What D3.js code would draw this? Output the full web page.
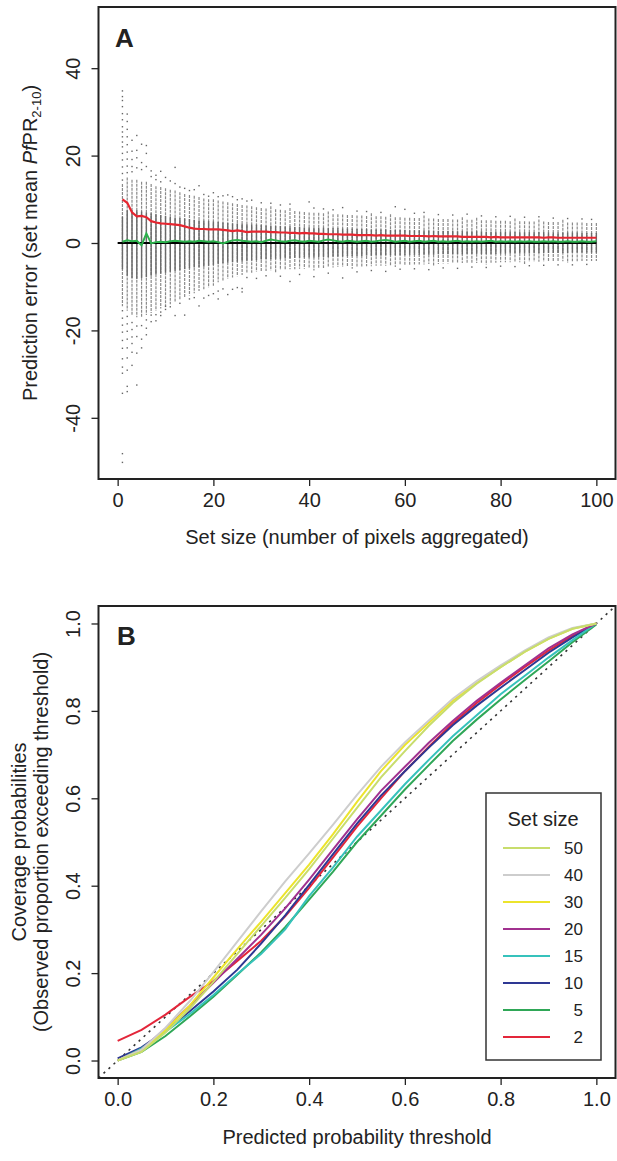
<!DOCTYPE html>
<html>
<head>
<meta charset="utf-8">
<script src="https://cdn.jsdelivr.net/npm/d3@7"></script>
<style>
  body { margin: 0; background: #fff; }
  text { font-family: "Liberation Sans", Arial, sans-serif; fill: #222; }
</style>
</head>
<body>
<div id="chart-area"></div>
<script>
//============================DATA============================
// Panel A: prediction error by set size (one boxplot per set size 1..100)
var setSizes = d3.range(1, 101);

var whiskerUpper = [
  13.5, 15.0, 14.5, 14.5, 14.0, 14.0, 13.5, 13.0, 12.8, 12.5,
  12.2, 12.0, 11.6, 11.2, 11.0, 10.8, 10.5, 10.2, 10.0, 10.0,
  9.7, 9.5, 9.3, 9.1, 8.9, 8.7, 8.6, 8.4, 8.2, 8.0,
  7.9, 8.4, 7.7, 7.6, 7.5, 8.0, 7.3, 7.2, 7.1, 7.0,
  6.9, 6.9, 6.8, 7.2, 6.6, 6.6, 6.5, 6.4, 6.4, 6.3,
  6.3, 6.2, 6.8, 6.1, 6.1, 6.0, 6.6, 5.9, 5.9, 5.8,
  5.8, 5.7, 5.7, 6.3, 5.6, 5.6, 5.5, 5.5, 5.5, 5.4,
  5.4, 5.9, 5.3, 5.3, 5.8, 5.2, 5.2, 5.2, 5.1, 5.1,
  5.1, 5.0, 5.6, 5.0, 5.0, 4.9, 4.9, 5.4, 4.9, 4.8,
  4.8, 4.8, 5.3, 4.7, 4.7, 4.7, 4.7, 4.6, 4.6, 4.6
];
var whiskerLower = [
  -14.5, -15.5, -16.5, -17.0, -17.0, -16.5, -16.0, -15.5, -15.0, -14.5,
  -14.0, -13.5, -13.0, -12.5, -12.0, -11.5, -11.0, -10.6, -10.2, -9.8,
  -9.0, -8.6, -8.2, -7.9, -7.6, -7.3, -7.0, -6.8, -6.6, -6.5,
  -6.4, -6.3, -6.8, -6.2, -6.1, -6.0, -6.0, -5.9, -5.9, -5.8,
  -6.3, -5.7, -5.7, -5.6, -5.6, -5.5, -5.5, -5.4, -5.9, -5.4,
  -5.4, -5.3, -5.3, -5.2, -5.2, -5.2, -5.1, -5.5, -5.0, -5.0,
  -5.0, -4.9, -4.9, -4.9, -4.8, -5.3, -4.8, -4.7, -4.7, -4.7,
  -4.7, -4.6, -4.6, -4.6, -4.6, -4.5, -5.0, -4.5, -4.5, -4.4,
  -4.4, -4.4, -4.4, -4.4, -4.8, -4.3, -4.3, -4.3, -4.3, -4.3,
  -4.2, -4.2, -4.2, -4.6, -4.2, -4.2, -4.1, -4.1, -4.1, -4.1
];
var quartileUpper = [
  6.0, 7.5, 7.5, 7.5, 7.2, 7.0, 6.8, 6.6, 6.4, 6.2,
  6.0, 5.8, 5.7, 5.6, 5.5, 5.3, 5.2, 5.1, 5.0, 4.9,
  4.8, 4.7, 4.6, 4.5, 4.5, 4.4, 4.3, 4.2, 4.2, 4.1,
  4.0, 4.0, 3.9, 3.9, 3.8, 3.8, 3.7, 3.7, 3.6, 3.6,
  3.5, 3.5, 3.5, 3.4, 3.4, 3.4, 3.3, 3.3, 3.3, 3.2,
  3.2, 3.2, 3.1, 3.1, 3.1, 3.1, 3.0, 3.0, 3.0, 3.0,
  2.9, 2.9, 2.9, 2.9, 2.9, 2.8, 2.8, 2.8, 2.8, 2.8,
  2.7, 2.7, 2.7, 2.7, 2.7, 2.7, 2.6, 2.6, 2.6, 2.6,
  2.6, 2.6, 2.5, 2.5, 2.5, 2.5, 2.5, 2.5, 2.5, 2.4,
  2.4, 2.4, 2.4, 2.4, 2.4, 2.4, 2.3, 2.3, 2.3, 2.3
];
var quartileLower = [
  -6.0, -7.5, -8.0, -8.2, -8.0, -7.8, -7.5, -7.2, -7.0, -6.8,
  -6.6, -6.4, -6.2, -6.0, -5.8, -5.6, -5.5, -5.4, -5.2, -5.0,
  -4.8, -4.6, -4.5, -4.4, -4.3, -4.2, -4.1, -4.0, -3.9, -3.8,
  -3.7, -3.7, -3.6, -3.6, -3.5, -3.5, -3.4, -3.4, -3.3, -3.3,
  -3.3, -3.2, -3.2, -3.2, -3.1, -3.1, -3.1, -3.0, -3.0, -3.0,
  -3.0, -2.9, -2.9, -2.9, -2.9, -2.8, -2.8, -2.8, -2.8, -2.8,
  -2.7, -2.7, -2.7, -2.7, -2.7, -2.7, -2.6, -2.6, -2.6, -2.6,
  -2.6, -2.6, -2.5, -2.5, -2.5, -2.5, -2.5, -2.5, -2.5, -2.4,
  -2.4, -2.4, -2.4, -2.4, -2.4, -2.4, -2.3, -2.3, -2.3, -2.3,
  -2.3, -2.3, -2.3, -2.3, -2.2, -2.2, -2.2, -2.2, -2.2, -2.2
];
// red line: mean absolute error; green line: mean error
var meanAbsError = [
  10.0, 9.2, 7.0, 6.1, 6.2, 5.9, 5.0, 4.7, 4.5, 4.4,
  4.3, 4.2, 4.1, 3.8, 3.5, 3.3, 3.2, 3.2, 3.1, 3.1,
  3.1, 3.0, 2.9, 2.7, 2.9, 2.7, 2.5, 2.6, 2.6, 2.6,
  2.6, 2.5, 2.5, 2.4, 2.4, 2.3, 2.3, 2.2, 2.3, 2.2,
  2.2, 2.1, 2.1, 2.0, 2.0, 2.0, 1.9, 1.9, 1.9, 1.8,
  1.8, 1.8, 1.8, 1.7, 1.8, 1.7, 1.7, 1.7, 1.7, 1.7,
  1.6, 1.6, 1.6, 1.6, 1.5, 1.6, 1.5, 1.5, 1.5, 1.5,
  1.5, 1.4, 1.4, 1.4, 1.4, 1.4, 1.4, 1.3, 1.4, 1.3,
  1.3, 1.3, 1.3, 1.3, 1.3, 1.3, 1.3, 1.3, 1.2, 1.3,
  1.3, 1.2, 1.2, 1.2, 1.2, 1.2, 1.2, 1.2, 1.2, 1.2
];
var meanError = [
  0.3, 0.6, 0.4, 0.5, -0.5, 2.2, -0.1, 0.2, 0.3, 0.2,
  0.4, 0.5, 0.4, 0.3, 0.4, 0.3, 0.5, 0.4, 0.3, 0.4,
  0.2, -0.1, 0.3, 0.6, 0.7, 0.5, 0.4, 0.3, 0.4, 0.2,
  0.5, 0.8, 0.6, 0.4, 0.3, 0.5, 0.6, 0.4, 0.3, 0.5,
  0.4, 0.3, 0.6, 0.8, 0.6, 0.4, 0.3, 0.5, 0.4, 0.3,
  0.4, 0.5, 0.3, 0.4, 0.6, 0.7, 0.5, 0.3, 0.4, 0.5,
  0.3, 0.4, 0.5, 0.3, 0.4, 0.5, 0.3, 0.4, 0.3, 0.4,
  0.5, 0.3, 0.4, 0.3, 0.4, 0.3, 0.4, 0.5, 0.3, 0.4,
  0.3, 0.4, 0.3, 0.4, 0.3, 0.4, 0.3, 0.3, 0.4, 0.3,
  0.4, 0.3, 0.3, 0.4, 0.3, 0.3, 0.4, 0.3, 0.3, 0.4
];
// outlying points: [set size, error]
var outliers = [
  [1,34.8],[1,33.5],[1,32.6],[1,31.2],[1,29.6],[1,28.2],[1,26.6],[1,25.4],[1,24.3],[1,23.1],
  [1,22.0],[1,20.5],[1,19.0],[1,17.4],[1,15.9],[1,14.4],[1,-15.5],[1,-17.2],[1,-18.8],[1,-20.4],
  [1,-22.3],[1,-24.1],[1,-26.5],[1,-28.4],[1,-29.8],[1,-34.4],[1,-48.2],[1,-50.2],
  [2,29.5],[2,27.8],[2,26.0],[2,24.3],[2,22.5],[2,20.8],[2,19.2],[2,17.6],[2,16.1],
  [2,-16.8],[2,-18.5],[2,-20.2],[2,-22.0],[2,-24.0],[2,-26.3],[2,-29.1],[2,-32.8],[2,-34.0],
  [3,23.5],[3,21.0],[3,19.1],[3,17.5],[3,16.3],[3,-18.2],[3,-19.8],[3,-21.5],[3,-23.0],[3,-25.0],[3,-28.0],
  [4,24.6],[4,21.2],[4,19.5],[4,17.2],[4,-19.0],[4,-21.4],[4,-25.2],[4,-32.5],
  [5,22.6],[5,18.4],[5,16.8],[5,-18.9],[5,-22.0],[5,-24.0],
  [6,22.3],[6,20.5],[6,17.5],[6,-17.6],[6,-19.5],[6,-21.0],
  [7,16.5],[7,15.2],[7,-16.5],[7,-18.0],[8,15.5],[8,14.5],[8,-16.4],[8,-17.8],
  [9,16.4],[9,14.0],[9,-15.8],[9,-16.6],[10,15.0],[10,-14.5],[10,-15.2],
  [11,14.2],[11,-14.6],[12,17.3],[12,13.6],[12,-16.6],[13,12.8],[13,-13.8],
  [14,12.5],[14,-16.5],[15,12.0],[15,-12.8],[16,12.2],[16,-12.5],[17,13.1],[17,-14.4],
  [18,11.1],[18,-12.6],[19,10.7],[19,-12.0],[20,11.5],[20,-11.6],[21,10.6],[21,-11.0],[21,-12.8],
  [22,10.8],[22,-10.5],[23,11.0],[23,-11.8],[24,10.6],[24,-10.6],[25,9.9],[25,-10.2],
  [26,10.1],[26,-10.4],[26,-11.2],[27,9.6],[27,-7.9],
  [28,9.8],[29,-8.1],[30,9.2],[31,-7.5],[32,9.1],[34,8.7],[34,-7.6],[36,8.9],[36,-8.8],
  [38,-7.2],[40,9.4],[41,8.0],[41,-7.7],[43,7.8],[44,-6.9],[45,7.6],[47,8.1],[47,-8.0],
  [50,7.3],[50,-6.6],[52,7.2],[53,-6.3],[55,7.0],[56,-6.5],[58,8.3],[59,-6.0],[60,7.7],
  [62,6.8],[62,-5.9],[64,7.0],[65,-6.1],[67,6.5],[68,-5.7],[70,6.4],[71,-5.8],[73,6.6],
  [74,-5.5],[76,6.2],[77,-5.6],[79,6.0],[80,-5.3],[82,6.1],[83,-5.4],[85,5.9],[86,-5.2],
  [88,6.0],[89,-5.1],[91,5.7],[92,-5.0],[94,5.6],[95,-5.0],[97,5.5],[98,-4.9],[99,5.4]
];
var tickValuesA_x = [0, 20, 40, 60, 80, 100];
var tickValuesA_y = [-40, -20, 0, 20, 40];

// Panel B: coverage probability vs predicted probability threshold
var thresholds = [0, 0.05, 0.1, 0.15, 0.2, 0.25, 0.3, 0.35, 0.4, 0.45, 0.5,
                  0.55, 0.6, 0.65, 0.7, 0.75, 0.8, 0.85, 0.9, 0.95, 1.0];
var cov2  = [0.045, 0.070, 0.105, 0.145, 0.182, 0.228, 0.274, 0.330, 0.395, 0.465, 0.535, 0.600, 0.662, 0.718, 0.772, 0.818, 0.860, 0.900, 0.938, 0.972, 1.000];
var cov5  = [0.000, 0.020, 0.056, 0.100, 0.146, 0.196, 0.248, 0.305, 0.368, 0.432, 0.500, 0.560, 0.620, 0.676, 0.731, 0.780, 0.826, 0.870, 0.913, 0.957, 0.998];
var cov10 = [0.005, 0.030, 0.068, 0.112, 0.158, 0.208, 0.268, 0.332, 0.402, 0.472, 0.542, 0.606, 0.662, 0.716, 0.767, 0.812, 0.853, 0.893, 0.933, 0.968, 1.000];
var cov15 = [0.000, 0.028, 0.066, 0.106, 0.150, 0.198, 0.244, 0.300, 0.376, 0.442, 0.512, 0.572, 0.632, 0.688, 0.742, 0.790, 0.838, 0.880, 0.922, 0.962, 1.000];
var cov20 = [0.000, 0.025, 0.073, 0.124, 0.178, 0.233, 0.288, 0.348, 0.414, 0.483, 0.552, 0.617, 0.672, 0.727, 0.777, 0.823, 0.864, 0.904, 0.943, 0.975, 1.000];
var cov30 = [0.000, 0.024, 0.070, 0.125, 0.190, 0.255, 0.318, 0.383, 0.448, 0.518, 0.592, 0.662, 0.722, 0.773, 0.823, 0.864, 0.900, 0.935, 0.965, 0.988, 1.000];
var cov40 = [0.000, 0.025, 0.075, 0.135, 0.202, 0.272, 0.342, 0.410, 0.474, 0.540, 0.608, 0.672, 0.728, 0.778, 0.828, 0.868, 0.904, 0.938, 0.968, 0.990, 1.000];
var cov50 = [0.000, 0.020, 0.064, 0.118, 0.180, 0.244, 0.308, 0.372, 0.438, 0.508, 0.578, 0.648, 0.708, 0.766, 0.818, 0.862, 0.900, 0.935, 0.965, 0.988, 1.000];

var legendLabels = ["50", "40", "30", "20", "15", "10", "5", "2"];
var legendColors = ["#c8dd6c", "#cdcdcd", "#ece42c", "#a1318f", "#36c2bc", "#2e3893", "#2fa757", "#e3263a"];
var tickValuesB = [0, 0.2, 0.4, 0.6, 0.8, 1.0];

//============================LAYOUT============================
var W = 617, H = 1161;
var plotLeft = 98.5, plotRight = 615.5;
var panelA = { top: 7, bottom: 479 };
var panelB = { top: 606, bottom: 1078 };

var svg = d3.select("#chart-area")
    .append("svg")
    .attr("width", W)
    .attr("height", H);

var xA = d3.scaleLinear().domain([-4, 104]).range([plotLeft, plotRight]);
var yA = d3.scaleLinear().domain([-54, 54]).range([panelA.bottom, panelA.top]);
var xB = d3.scaleLinear().domain([-0.04, 1.04]).range([plotLeft, plotRight]);
var yB = d3.scaleLinear().domain([-0.04, 1.04]).range([panelB.bottom, panelB.top]);

// plain hyphen minus, like R's labels
var fmtInt = function(d){ return String(d); };
var fmtDec = function(d){ return d.toFixed(1); };

// shared axis drawing (R style: outside ticks, y labels parallel to axis)
function drawAxes(g, x, y, xticks, yticks, fmt, bottom) {
    var xAxis = g.append("g")
        .attr("transform", "translate(0," + bottom + ")")
        .call(d3.axisBottom(x).tickValues(xticks).tickFormat(fmt).tickSize(7).tickPadding(7));
    xAxis.select(".domain").remove();
    xAxis.selectAll("line").attr("stroke", "#222").attr("stroke-width", 1.3);
    xAxis.selectAll("text").attr("font-size", "20px").attr("fill", "#222")
        .style("font-family", "'Liberation Sans', Arial, sans-serif");

    var yAxis = g.append("g")
        .attr("transform", "translate(" + plotLeft + ",0)")
        .call(d3.axisLeft(y).tickValues(yticks).tickFormat(fmt).tickSize(7));
    yAxis.select(".domain").remove();
    yAxis.selectAll("line").attr("stroke", "#222").attr("stroke-width", 1.3);
    yAxis.selectAll("text")
        .attr("x", 0).attr("y", -19).attr("dy", 0)
        .attr("transform", "rotate(-90)")
        .attr("text-anchor", "middle")
        .attr("font-size", "20px").attr("fill", "#222")
        .style("font-family", "'Liberation Sans', Arial, sans-serif");
}

function drawFrame(g, top, bottom) {
    g.append("rect")
        .attr("x", plotLeft).attr("y", top)
        .attr("width", plotRight - plotLeft).attr("height", bottom - top)
        .attr("fill", "none").attr("stroke", "#222").attr("stroke-width", 2);
}

//============================PANEL A============================
var gA = svg.append("g");
var boxData = setSizes.map(function(n, i){
    return { n: n, lo: whiskerLower[i], q1: quartileLower[i], q3: quartileUpper[i], hi: whiskerUpper[i] };
});

gA.selectAll(".whisker")
    .data(boxData).enter()
    .append("line")
    .attr("class", "whisker")
    .attr("x1", function(d){ return xA(d.n); })
    .attr("x2", function(d){ return xA(d.n); })
    .attr("y1", function(d){ return yA(d.hi); })
    .attr("y2", function(d){ return yA(d.lo); })
    .attr("stroke", "#8a8a8a")
    .attr("stroke-width", 1.2)
    .attr("stroke-dasharray", "3,1");

gA.selectAll(".box")
    .data(boxData).enter()
    .append("rect")
    .attr("class", "box")
    .attr("x", function(d){ return xA(d.n) - 0.7; })
    .attr("width", 1.4)
    .attr("y", function(d){ return yA(d.q3); })
    .attr("height", function(d){ return yA(d.q1) - yA(d.q3); })
    .attr("fill", "#6a6a6a");

gA.selectAll(".outlier")
    .data(outliers).enter()
    .append("rect")
    .attr("class", "outlier")
    .attr("x", function(d){ return xA(d[0]) - 0.7; })
    .attr("y", function(d){ return yA(d[1]) - 0.7; })
    .attr("width", 1.4).attr("height", 1.4)
    .attr("fill", "#666");

// zero reference line
gA.append("line")
    .attr("x1", xA(0)).attr("x2", xA(d3.max(setSizes)))
    .attr("y1", yA(0)).attr("y2", yA(0))
    .attr("stroke", "#000").attr("stroke-width", 2.2);

var lineA = function(values) {
    return d3.line()
        .x(function(d, i){ return xA(setSizes[i]); })
        .y(function(d){ return yA(d); })(values);
};
gA.append("path").attr("d", lineA(meanError))
    .attr("fill", "none").attr("stroke", "#2bb24c").attr("stroke-width", 2);
gA.append("path").attr("d", lineA(meanAbsError))
    .attr("fill", "none").attr("stroke", "#e62630").attr("stroke-width", 2.2);

drawFrame(gA, panelA.top, panelA.bottom);
drawAxes(gA, xA, yA, tickValuesA_x, tickValuesA_y, fmtInt, panelA.bottom);

gA.append("text")
    .attr("x", 115).attr("y", 47)
    .attr("font-size", "26px").attr("font-weight", "bold").attr("fill", "#111")
    .text("A");

gA.append("text")
    .attr("x", (plotLeft + plotRight) / 2).attr("y", 544)
    .attr("text-anchor", "middle").attr("font-size", "20px")
    .text("Set size (number of pixels aggregated)");

var yTitleA = gA.append("text")
    .attr("transform", "translate(37," + yA(0) + ") rotate(-90)")
    .attr("text-anchor", "middle").attr("font-size", "20px");
yTitleA.append("tspan").text("Prediction error (set mean ");
yTitleA.append("tspan").attr("font-style", "italic").text("Pf");
yTitleA.append("tspan").text("PR");
yTitleA.append("tspan").attr("font-size", "13px").attr("dy", 4).text("2-10");
yTitleA.append("tspan").attr("dy", -4).text(")");

//============================PANEL B============================
var gB = svg.append("g");

var defs = svg.append("defs");
defs.append("clipPath").attr("id", "clipB")
    .append("rect")
    .attr("x", plotLeft).attr("y", panelB.top)
    .attr("width", plotRight - plotLeft).attr("height", panelB.bottom - panelB.top);

// 1:1 reference line
gB.append("line")
    .attr("clip-path", "url(#clipB)")
    .attr("x1", xB(-0.04)).attr("y1", yB(-0.04))
    .attr("x2", xB(1.04)).attr("y2", yB(1.04))
    .attr("stroke", "#333").attr("stroke-width", 1.6)
    .attr("stroke-dasharray", "2.2,4.6");

var seriesB = [
    { label: "2",  values: cov2 },
    { label: "5",  values: cov5 },
    { label: "10", values: cov10 },
    { label: "15", values: cov15 },
    { label: "20", values: cov20 },
    { label: "30", values: cov30 },
    { label: "40", values: cov40 },
    { label: "50", values: cov50 }
];
var colorB = d3.scaleOrdinal().domain(legendLabels).range(legendColors);

var lineB = d3.line()
    .x(function(d, i){ return xB(thresholds[i]); })
    .y(function(d){ return yB(d); });

gB.selectAll(".cov")
    .data(seriesB).enter()
    .append("path")
    .attr("class", "cov")
    .attr("d", function(d){ return lineB(d.values); })
    .attr("fill", "none")
    .attr("stroke", function(d){ return colorB(d.label); })
    .attr("stroke-width", 2);

drawFrame(gB, panelB.top, panelB.bottom);
drawAxes(gB, xB, yB, tickValuesB, tickValuesB, fmtDec, panelB.bottom);

gB.append("text")
    .attr("x", 117).attr("y", 645)
    .attr("font-size", "26px").attr("font-weight", "bold").attr("fill", "#111")
    .text("B");

gB.append("text")
    .attr("x", (plotLeft + plotRight) / 2).attr("y", 1144)
    .attr("text-anchor", "middle").attr("font-size", "20px")
    .text("Predicted probability threshold");

var midB = (yB(0) + yB(1)) / 2;
gB.append("text")
    .attr("transform", "translate(26," + midB + ") rotate(-90)")
    .attr("text-anchor", "middle").attr("font-size", "20px")
    .text("Coverage probabilities");
gB.append("text")
    .attr("transform", "translate(48," + midB + ") rotate(-90)")
    .attr("text-anchor", "middle").attr("font-size", "20px")
    .text("(Observed proportion exceeding threshold)");

// legend
var legend = gB.append("g").attr("transform", "translate(486,793)");
legend.append("rect")
    .attr("width", 115).attr("height", 267)
    .attr("fill", "#fff").attr("stroke", "#333").attr("stroke-width", 1.5);
legend.append("text")
    .attr("x", 57).attr("y", 33)
    .attr("text-anchor", "middle").attr("font-size", "20px")
    .text("Set size");
var items = legend.selectAll(".item")
    .data(legendLabels).enter()
    .append("g")
    .attr("class", "item")
    .attr("transform", function(d, i){ return "translate(0," + (55 + i * 27) + ")"; });
items.append("line")
    .attr("x1", 17).attr("x2", 64)
    .attr("stroke", function(d){ return colorB(d); })
    .attr("stroke-width", 2);
items.append("text")
    .attr("x", 97).attr("dy", "0.36em")
    .attr("text-anchor", "end").attr("font-size", "17px")
    .text(function(d){ return d; });
</script>
</body>
</html>
